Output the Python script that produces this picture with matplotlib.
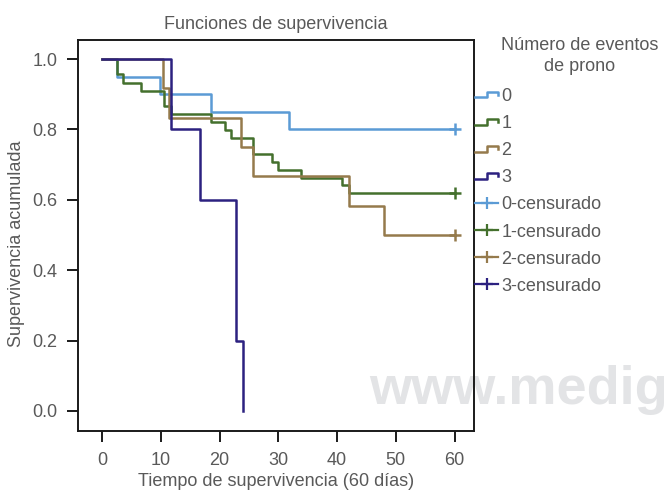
import matplotlib
matplotlib.use("Agg")
import matplotlib.pyplot as plt
from matplotlib.lines import Line2D
from matplotlib.legend_handler import HandlerLine2D

plt.rcParams['font.family'] = ['Liberation Sans', 'DejaVu Sans']

# Kaplan-Meier curves (time, cumulative survival)
t0 = [0, 2.5, 9.8, 18.6, 31.8, 60]
s0 = [1.0, 0.95, 0.90, 0.85, 0.80, 0.80]
t1 = [0, 2.6, 3.6, 6.7, 10.5, 11.7, 18.6, 20.9, 21.9, 25.6, 28.9, 29.9, 33.8, 40.9, 42.0, 60]
s1 = [1.0, 0.957, 0.933, 0.910, 0.866, 0.843, 0.820, 0.797, 0.775, 0.731, 0.708, 0.685, 0.663, 0.641, 0.620, 0.620]
t2 = [0, 10.4, 11.4, 23.7, 25.6, 42.1, 48.0, 60]
s2 = [1.0, 0.917, 0.833, 0.75, 0.667, 0.583, 0.5, 0.5]
t3 = [0, 11.7, 16.7, 22.8, 23.9]
s3 = [1.0, 0.8, 0.6, 0.2, 0.0]

# censored points (only the last ones are visible)
cens_t = [60, 60, 60]
cens_s = [0.80, 0.62, 0.50]

groups = ['0', '1', '2', '3']
colors = ['#5b9bd5', '#44702d', '#957a4c', '#2c2180']
gray = '#595959'


class StepHandler(HandlerLine2D):
    def create_artists(self, legend, orig_handle, xdescent, ydescent,
                       width, height, fontsize, trans):
        x0 = -xdescent
        yc = height / 2 - ydescent
        d = height * 0.22
        xs = [x0, x0 + width * 0.5, x0 + width * 0.5, x0 + width, x0 + width]
        ys = [yc - d, yc - d, yc + d, yc + d, yc]
        ln = Line2D(xs, ys, color=orig_handle.get_color(),
                    lw=orig_handle.get_linewidth(), transform=trans)
        return [ln]


fig = plt.figure(figsize=(6.65, 4.92), dpi=100)
ax = fig.add_axes([0.1173, 0.124, 0.5955, 0.7947])
ax.patch.set_alpha(0)

# watermark (cut at the right edge, as in the original)
ax.text(0.735, 0.069, 'www.medigraphic.org.mx', transform=ax.transAxes,
        fontsize=39, fontweight='bold', family=['Liberation Sans', 'DejaVu Sans'],
        color='#e3e4e6', ha='left', va='baseline', clip_on=False, zorder=0.5)

times = [t0, t1, t2, t3]
survs = [s0, s1, s2, s3]
handles = []
for t, s, c, g in zip(times, survs, colors, groups):
    ln, = ax.step(t, s, where='post', color=c, lw=1.8, zorder=2)
    handles.append(ln)

cens_handles = []
for i, c in enumerate(colors):
    if i < len(cens_t):
        ax.plot(cens_t[i], cens_s[i], marker='+', color=c, markersize=8,
                mew=1.8, linestyle='none', zorder=3)
    cens_handles.append(Line2D([], [], color=c, lw=1.6, marker='+',
                               markersize=9, mew=1.6))

ax.set_xlim(-4.1, 63.3)
ax.set_ylim(-0.057, 1.054)
ax.set_xticks([0, 10, 20, 30, 40, 50, 60])
ax.set_yticks([0.0, 0.2, 0.4, 0.6, 0.8, 1.0])
ax.set_yticklabels(['0.0', '0.2', '0.4', '0.6', '0.8', '1.0'])
ax.tick_params(direction='out', length=8, width=1.4, color='#1a1a1a',
               labelsize=13, labelcolor=gray, pad=7)
for sp in ax.spines.values():
    sp.set_linewidth(1.4)
    sp.set_color('#1a1a1a')

ax.set_title('Funciones de supervivencia', fontsize=13, color=gray, pad=8)
ax.set_xlabel('Tiempo de supervivencia (60 días)', fontsize=13, color=gray, labelpad=3)
ax.set_ylabel('Supervivencia acumulada', fontsize=13, color=gray)
ax.yaxis.set_label_coords(-0.135, 0.48)

fig.text(580 / 665, 1 - 37 / 492, 'Número de eventos\nde prono', ha='center', va='top',
         fontsize=13, color=gray, linespacing=1.34)

labels = groups + [g + '-censurado' for g in groups]
hmap = {h: StepHandler() for h in handles}
leg = fig.legend(handles + cens_handles, labels, loc='upper left',
                 bbox_to_anchor=(475 / 665, 1 - 88 / 492), frameon=False,
                 fontsize=13, handlelength=1.3, handletextpad=0.15,
                 labelspacing=0.56, borderpad=0, borderaxespad=0,
                 handler_map=hmap)
for txt in leg.get_texts():
    txt.set_color(gray)

fig.savefig('out.png', dpi=100)
